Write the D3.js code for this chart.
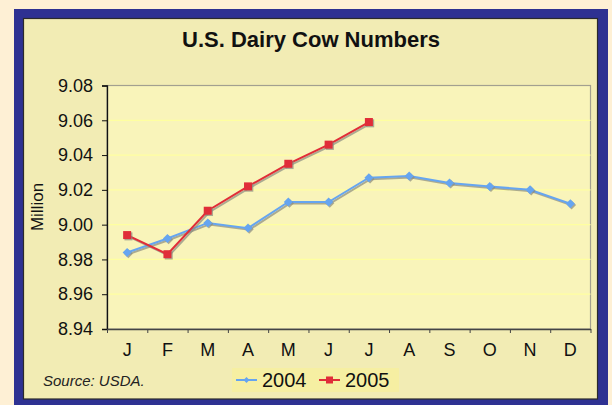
<!DOCTYPE html>
<html>
<head>
<meta charset="utf-8">
<script src="https://cdn.jsdelivr.net/npm/d3@7"></script>
<style>
  body { margin: 0; background: #FEF0D5; }
  svg { display: block; font-family: "Liberation Sans", Arial, sans-serif; }
</style>
</head>
<body>
<div id="chart-area"></div>
<script>
// U.S. Dairy Cow Numbers, monthly, million head

const months = ["J", "F", "M", "A", "M", "J", "J", "A", "S", "O", "N", "D"]
const cows2004 = [8.984, 8.992, 9.001, 8.998, 9.013, 9.013, 9.027, 9.028, 9.024, 9.022, 9.020, 9.012]
const cows2005 = [8.994, 8.983, 9.008, 9.022, 9.035, 9.046, 9.059]
const yTicks = [8.94, 8.96, 8.98, 9.00, 9.02, 9.04, 9.06, 9.08]
const seriesNames = ["2004", "2005"]

const W = 612, H = 405
const PLOT = { LEFT: 107, TOP: 85.5, RIGHT: 590.5, BOTTOM: 329 }

const BLUE = "#66A5F0"
const RED = "#E02D38"
const SHADOW = "#8A8A80"

const svg = d3.select("#chart-area").append("svg")
  .attr("width", W)
  .attr("height", H)

// frame
svg.append("rect").attr("x", 0).attr("y", 0).attr("width", W).attr("height", H).attr("fill", "#FEF0D5")
svg.append("rect").attr("x", 14).attr("y", 9).attr("width", 594).attr("height", 400).attr("fill", "#2E3192")
svg.append("rect").attr("x", 23.5).attr("y", 18.5).attr("width", 574).attr("height", 380.5)
  .attr("fill", "#F2ECB4").attr("stroke", "#2a2a2a").attr("stroke-width", 1.2)

// title
svg.append("text")
  .attr("x", 311).attr("y", 47)
  .attr("text-anchor", "middle")
  .attr("font-size", "22px").attr("font-weight", "bold")
  .attr("fill", "#111")
  .text("U.S. Dairy Cow Numbers")

// scales
const x = d3.scaleBand()
  .domain(d3.range(months.length))
  .range([PLOT.LEFT, PLOT.RIGHT])
const xEdge = d3.scaleLinear()
  .domain([0, months.length])
  .range([PLOT.LEFT, PLOT.RIGHT])
const y = d3.scaleLinear()
  .domain([8.94, 9.08])
  .range([PLOT.BOTTOM, PLOT.TOP])

// plot area
svg.append("rect")
  .attr("x", PLOT.LEFT).attr("y", PLOT.TOP)
  .attr("width", PLOT.RIGHT - PLOT.LEFT).attr("height", PLOT.BOTTOM - PLOT.TOP)
  .attr("fill", "#F9F4BA").attr("stroke", "#A3A090").attr("stroke-width", 1.2)

// gridlines
svg.append("g").selectAll("line")
  .data(yTicks.slice(1, -1))
  .enter().append("line")
  .attr("x1", PLOT.LEFT).attr("x2", PLOT.RIGHT)
  .attr("y1", d => y(d)).attr("y2", d => y(d))
  .attr("stroke", "#FFFFA0").attr("stroke-width", 1.3)

// y axis
const yAxisGroup = svg.append("g")
  .attr("transform", `translate(${PLOT.LEFT},0)`)
  .call(d3.axisLeft(y).tickValues(yTicks).tickFormat(d3.format(".2f")).tickSize(5).tickPadding(9))
yAxisGroup.select(".domain").attr("stroke", "#111").attr("stroke-width", 1.3)
yAxisGroup.selectAll(".tick line").attr("stroke", "#111")
yAxisGroup.selectAll("text").attr("font-size", "18px").attr("fill", "#111")
  .attr("font-family", "Liberation Sans, Arial, sans-serif")

// x axis: ticks at band edges, labels at band centres
const xAxisGroup = svg.append("g")
  .attr("transform", `translate(0,${PLOT.BOTTOM})`)
  .call(d3.axisBottom(xEdge).tickValues(d3.range(months.length + 1)).tickFormat("").tickSize(4).tickSizeOuter(0))
xAxisGroup.select(".domain").attr("stroke", "#444").attr("stroke-width", 1.3)
xAxisGroup.selectAll(".tick line").attr("stroke", "#444")

svg.append("g").selectAll("text")
  .data(months)
  .enter().append("text")
  .attr("x", (d, i) => x(i) + x.bandwidth() / 2)
  .attr("y", 356)
  .attr("text-anchor", "middle")
  .attr("font-size", "18px").attr("fill", "#111")
  .text(d => d)

// y label
svg.append("text")
  .attr("transform", "translate(43,207) rotate(-90)")
  .attr("text-anchor", "middle")
  .attr("font-size", "17px").attr("fill", "#111")
  .text("Million")

// lines
const line = d3.line()
  .x((d, i) => x(i) + x.bandwidth() / 2)
  .y(d => y(d))

function drawSeries(values, color, marker) {
  const g = svg.append("g")
  // drop shadow
  g.append("path").datum(values)
    .attr("d", line).attr("fill", "none")
    .attr("stroke", SHADOW).attr("stroke-width", 2).attr("opacity", 0.7)
    .attr("transform", "translate(1.5,1.5)")
  g.append("path").datum(values)
    .attr("d", line).attr("fill", "none")
    .attr("stroke", color).attr("stroke-width", 2)
  const pts = g.selectAll("g.pt")
    .data(values)
    .enter().append("g")
    .attr("transform", (d, i) => `translate(${x(i) + x.bandwidth() / 2},${y(d)})`)
  if (marker === "diamond") {
    pts.append("path").attr("d", "M0,-4.5L4.5,0L0,4.5L-4.5,0Z").attr("fill", SHADOW).attr("opacity", 0.7)
      .attr("transform", "translate(1.2,1.2)")
    pts.append("path").attr("d", "M0,-4.5L4.5,0L0,4.5L-4.5,0Z").attr("fill", color)
  } else {
    pts.append("rect").attr("x", -4).attr("y", -4).attr("width", 8).attr("height", 8)
      .attr("fill", SHADOW).attr("opacity", 0.7).attr("transform", "translate(1.3,1.3)")
    pts.append("rect").attr("x", -4).attr("y", -4).attr("width", 8).attr("height", 8).attr("fill", color)
  }
}

drawSeries(cows2004, BLUE, "diamond")
drawSeries(cows2005, RED, "square")

// source note
svg.append("text")
  .attr("x", 43).attr("y", 386)
  .attr("font-size", "15px").attr("font-style", "italic").attr("fill", "#222")
  .text("Source: USDA.")

// legend
const legend = svg.append("g")
legend.append("rect")
  .attr("x", 232).attr("y", 368).attr("width", 167).attr("height", 24)
  .attr("fill", "#F6EFA2")
const legendItems = [
  { name: seriesNames[0], color: BLUE, marker: "diamond", x0: 236 },
  { name: seriesNames[1], color: RED, marker: "square", x0: 319 }
]
legendItems.forEach(d => {
  legend.append("line")
    .attr("x1", d.x0).attr("x2", d.x0 + 21).attr("y1", 380).attr("y2", 380)
    .attr("stroke", d.color).attr("stroke-width", 2)
  if (d.marker === "diamond") {
    legend.append("path").attr("d", "M0,-3L3,0L0,3L-3,0Z").attr("fill", d.color)
      .attr("transform", `translate(${d.x0 + 10.5},380)`)
  } else {
    legend.append("rect").attr("x", d.x0 + 7).attr("y", 376.5).attr("width", 7).attr("height", 7).attr("fill", d.color)
  }
  legend.append("text")
    .attr("x", d.x0 + 26).attr("y", 387)
    .attr("font-size", "20px").attr("fill", "#111")
    .text(d.name)
})
</script>
</body>
</html>
